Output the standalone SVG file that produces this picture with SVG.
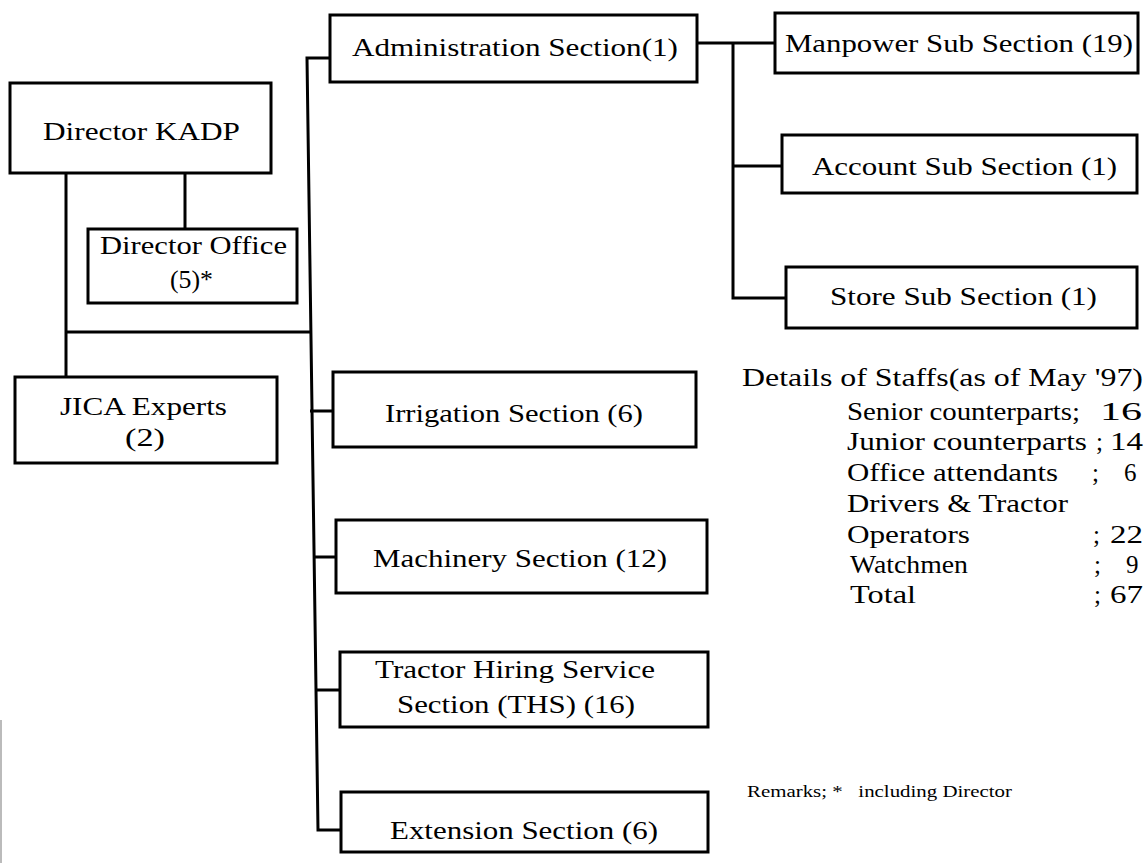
<svg xmlns="http://www.w3.org/2000/svg" width="1145" height="863" viewBox="0 0 1145 863">
<style>
.box{fill:#fff;stroke:#000;stroke-width:3}
.ln{fill:none;stroke:#000;stroke-width:3}
text{font-family:"Liberation Serif","Times New Roman",serif;font-size:25px;fill:#000}
.sm{font-size:17px}
</style>
<rect width="1145" height="863" fill="#fff"/>
<g id="connectors">
<path class="ln" d="M66,173 V377 M185,173 V229 M66,332 H311"/>
<path class="ln" d="M330,58 H307 L318,830 H341"/>
<path class="ln" d="M310,411 H333 M313,557 H336 M315,690 H340"/>
<path class="ln" d="M697,43 H775 M733,43 V298 H786 M733,166 H782"/>
<line x1="1" y1="720" x2="1" y2="863" stroke="#bbb" stroke-width="2"/>
</g>
<g id="director">
<rect class="box" x="10" y="83" width="261" height="90"/>
<text x="43" y="140" textLength="197" lengthAdjust="spacingAndGlyphs">Director  KADP</text>
</g>
<g id="office">
<rect class="box" x="88" y="229" width="209" height="74"/>
<text x="100" y="254" textLength="187" lengthAdjust="spacingAndGlyphs">Director Office</text>
<text x="170" y="288" textLength="43" lengthAdjust="spacingAndGlyphs">(5)*</text>
</g>
<g id="jica">
<rect class="box" x="15" y="377" width="262" height="86"/>
<text x="60" y="415" textLength="167" lengthAdjust="spacingAndGlyphs">JICA Experts</text>
<text x="125" y="446" textLength="40" lengthAdjust="spacingAndGlyphs">(2)</text>
</g>
<g id="admin">
<rect class="box" x="330" y="15" width="367" height="67"/>
<text x="352" y="56" textLength="326" lengthAdjust="spacingAndGlyphs">Administration Section(1)</text>
</g>
<g id="manpower">
<rect class="box" x="775" y="13" width="363" height="60"/>
<text x="785" y="52" textLength="348" lengthAdjust="spacingAndGlyphs">Manpower Sub Section (19)</text>
</g>
<g id="account">
<rect class="box" x="782" y="135" width="355" height="58"/>
<text x="812" y="175" textLength="305" lengthAdjust="spacingAndGlyphs">Account Sub Section (1)</text>
</g>
<g id="store">
<rect class="box" x="786" y="267" width="351" height="61"/>
<text x="830" y="305" textLength="267" lengthAdjust="spacingAndGlyphs">Store Sub Section (1)</text>
</g>
<g id="irrigation">
<rect class="box" x="333" y="372" width="363" height="75"/>
<text x="385" y="422" textLength="258" lengthAdjust="spacingAndGlyphs">Irrigation Section (6)</text>
</g>
<g id="machinery">
<rect class="box" x="336" y="520" width="371" height="73"/>
<text x="373" y="567" textLength="294" lengthAdjust="spacingAndGlyphs">Machinery Section (12)</text>
</g>
<g id="tractor">
<rect class="box" x="340" y="652" width="368" height="75"/>
<text x="375" y="678" textLength="280" lengthAdjust="spacingAndGlyphs">Tractor Hiring Service</text>
<text x="397" y="713" textLength="238" lengthAdjust="spacingAndGlyphs">Section (THS) (16)</text>
</g>
<g id="extension">
<rect class="box" x="341" y="792" width="367" height="60"/>
<text x="390" y="839" textLength="268" lengthAdjust="spacingAndGlyphs">Extension Section (6)</text>
</g>
<g id="details">
<text x="742" y="386" textLength="401" lengthAdjust="spacingAndGlyphs">Details of Staffs(as of May '97)</text>
<text x="847" y="420" textLength="233" lengthAdjust="spacingAndGlyphs">Senior counterparts;</text>
<text x="1100" y="420" textLength="42" lengthAdjust="spacingAndGlyphs">16</text>
<text x="847" y="450" textLength="240" lengthAdjust="spacingAndGlyphs">Junior counterparts</text>
<text x="1096" y="450">;</text>
<text x="1110" y="450" textLength="33" lengthAdjust="spacingAndGlyphs">14</text>
<text x="847" y="481" textLength="211" lengthAdjust="spacingAndGlyphs">Office attendants</text>
<text x="1092" y="481">;</text>
<text x="1124" y="481">6</text>
<text x="847" y="512" textLength="221" lengthAdjust="spacingAndGlyphs">Drivers &amp; Tractor</text>
<text x="847" y="543" textLength="123" lengthAdjust="spacingAndGlyphs">Operators</text>
<text x="1093" y="543">;</text>
<text x="1110" y="543" textLength="33" lengthAdjust="spacingAndGlyphs">22</text>
<text x="850" y="573" textLength="118" lengthAdjust="spacingAndGlyphs">Watchmen</text>
<text x="1094" y="573">;</text>
<text x="1126" y="573">9</text>
<text x="850" y="603" textLength="66" lengthAdjust="spacingAndGlyphs">Total</text>
<text x="1094" y="603">;</text>
<text x="1110" y="603" textLength="33" lengthAdjust="spacingAndGlyphs">67</text>
</g>
<g id="remarks">
<text class="sm" x="747" y="797" textLength="265" lengthAdjust="spacingAndGlyphs" xml:space="preserve">Remarks; *   including Director</text>
</g>
</svg>
